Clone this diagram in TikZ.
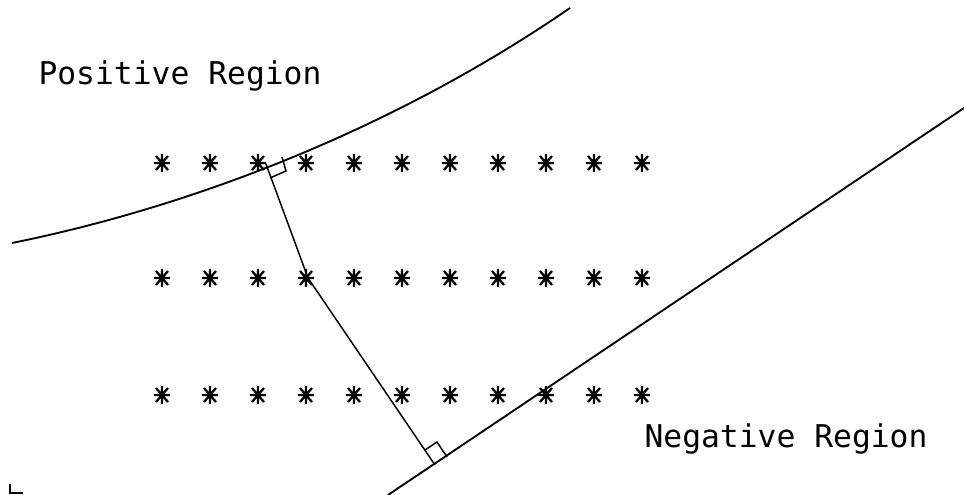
\documentclass[tikz,border=0pt]{standalone}
\usepackage{fontspec}
\newfontfamily\plotfont{DejaVu Sans Mono}
\usetikzlibrary{positioning, calc}

\begin{document}
\begin{tikzpicture}[
        x=0.75pt, y=-0.75pt,
        bnd/.style  ={draw, line width=1.4pt},
        perp/.style ={draw, line width=1.1pt},
        lbl/.style  ={font=\plotfont\fontsize{23.5pt}{26pt}\selectfont, inner sep=0pt},
        astk/.pic   ={\draw[line width=1.7pt] (-8,0) -- (8,0) (0,-9) -- (0,9)
                        (-6,-7) -- (6,7) (-6,7) -- (6,-7);}
    ]
    \useasboundingbox (0,0) rectangle (964,495);

    %% ---- labels --------------------------------------------------------
    \node[lbl] (pos) at (180,76)  {Positive Region};
    \node[lbl] (neg) at (786,439) {Negative Region};

    %% ---- sample points, three rows -------------------------------------
    \foreach \r in {163,278,395}
        \foreach \c in {0,...,10}
            \pic at ({162+48*\c},\r) {astk};

    %% ---- boundaries ----------------------------------------------------
    \draw[bnd] (12,243) .. controls (200,205) and (400,125) .. (570,8);
    \draw[bnd] (388,495) -- (964,108);

    %% ---- feet, bend and right-angle marks ------------------------------
    \coordinate (ftop) at (266,164);
    \coordinate (fmid) at (308,278);
    \coordinate (fbot) at (435,465);
    \draw[perp] (ftop) -- (fmid) -- (fbot);
    \draw[perp] (282,157) -- (286,171) -- (270,178);
    \draw[perp] (447,457) -- (437,442) -- (425,450);

    %% ---- corner tick ---------------------------------------------------
    \draw[line width=1.4pt] (10,484) -- (10,493) -- (23,493);
\end{tikzpicture}
\end{document}
